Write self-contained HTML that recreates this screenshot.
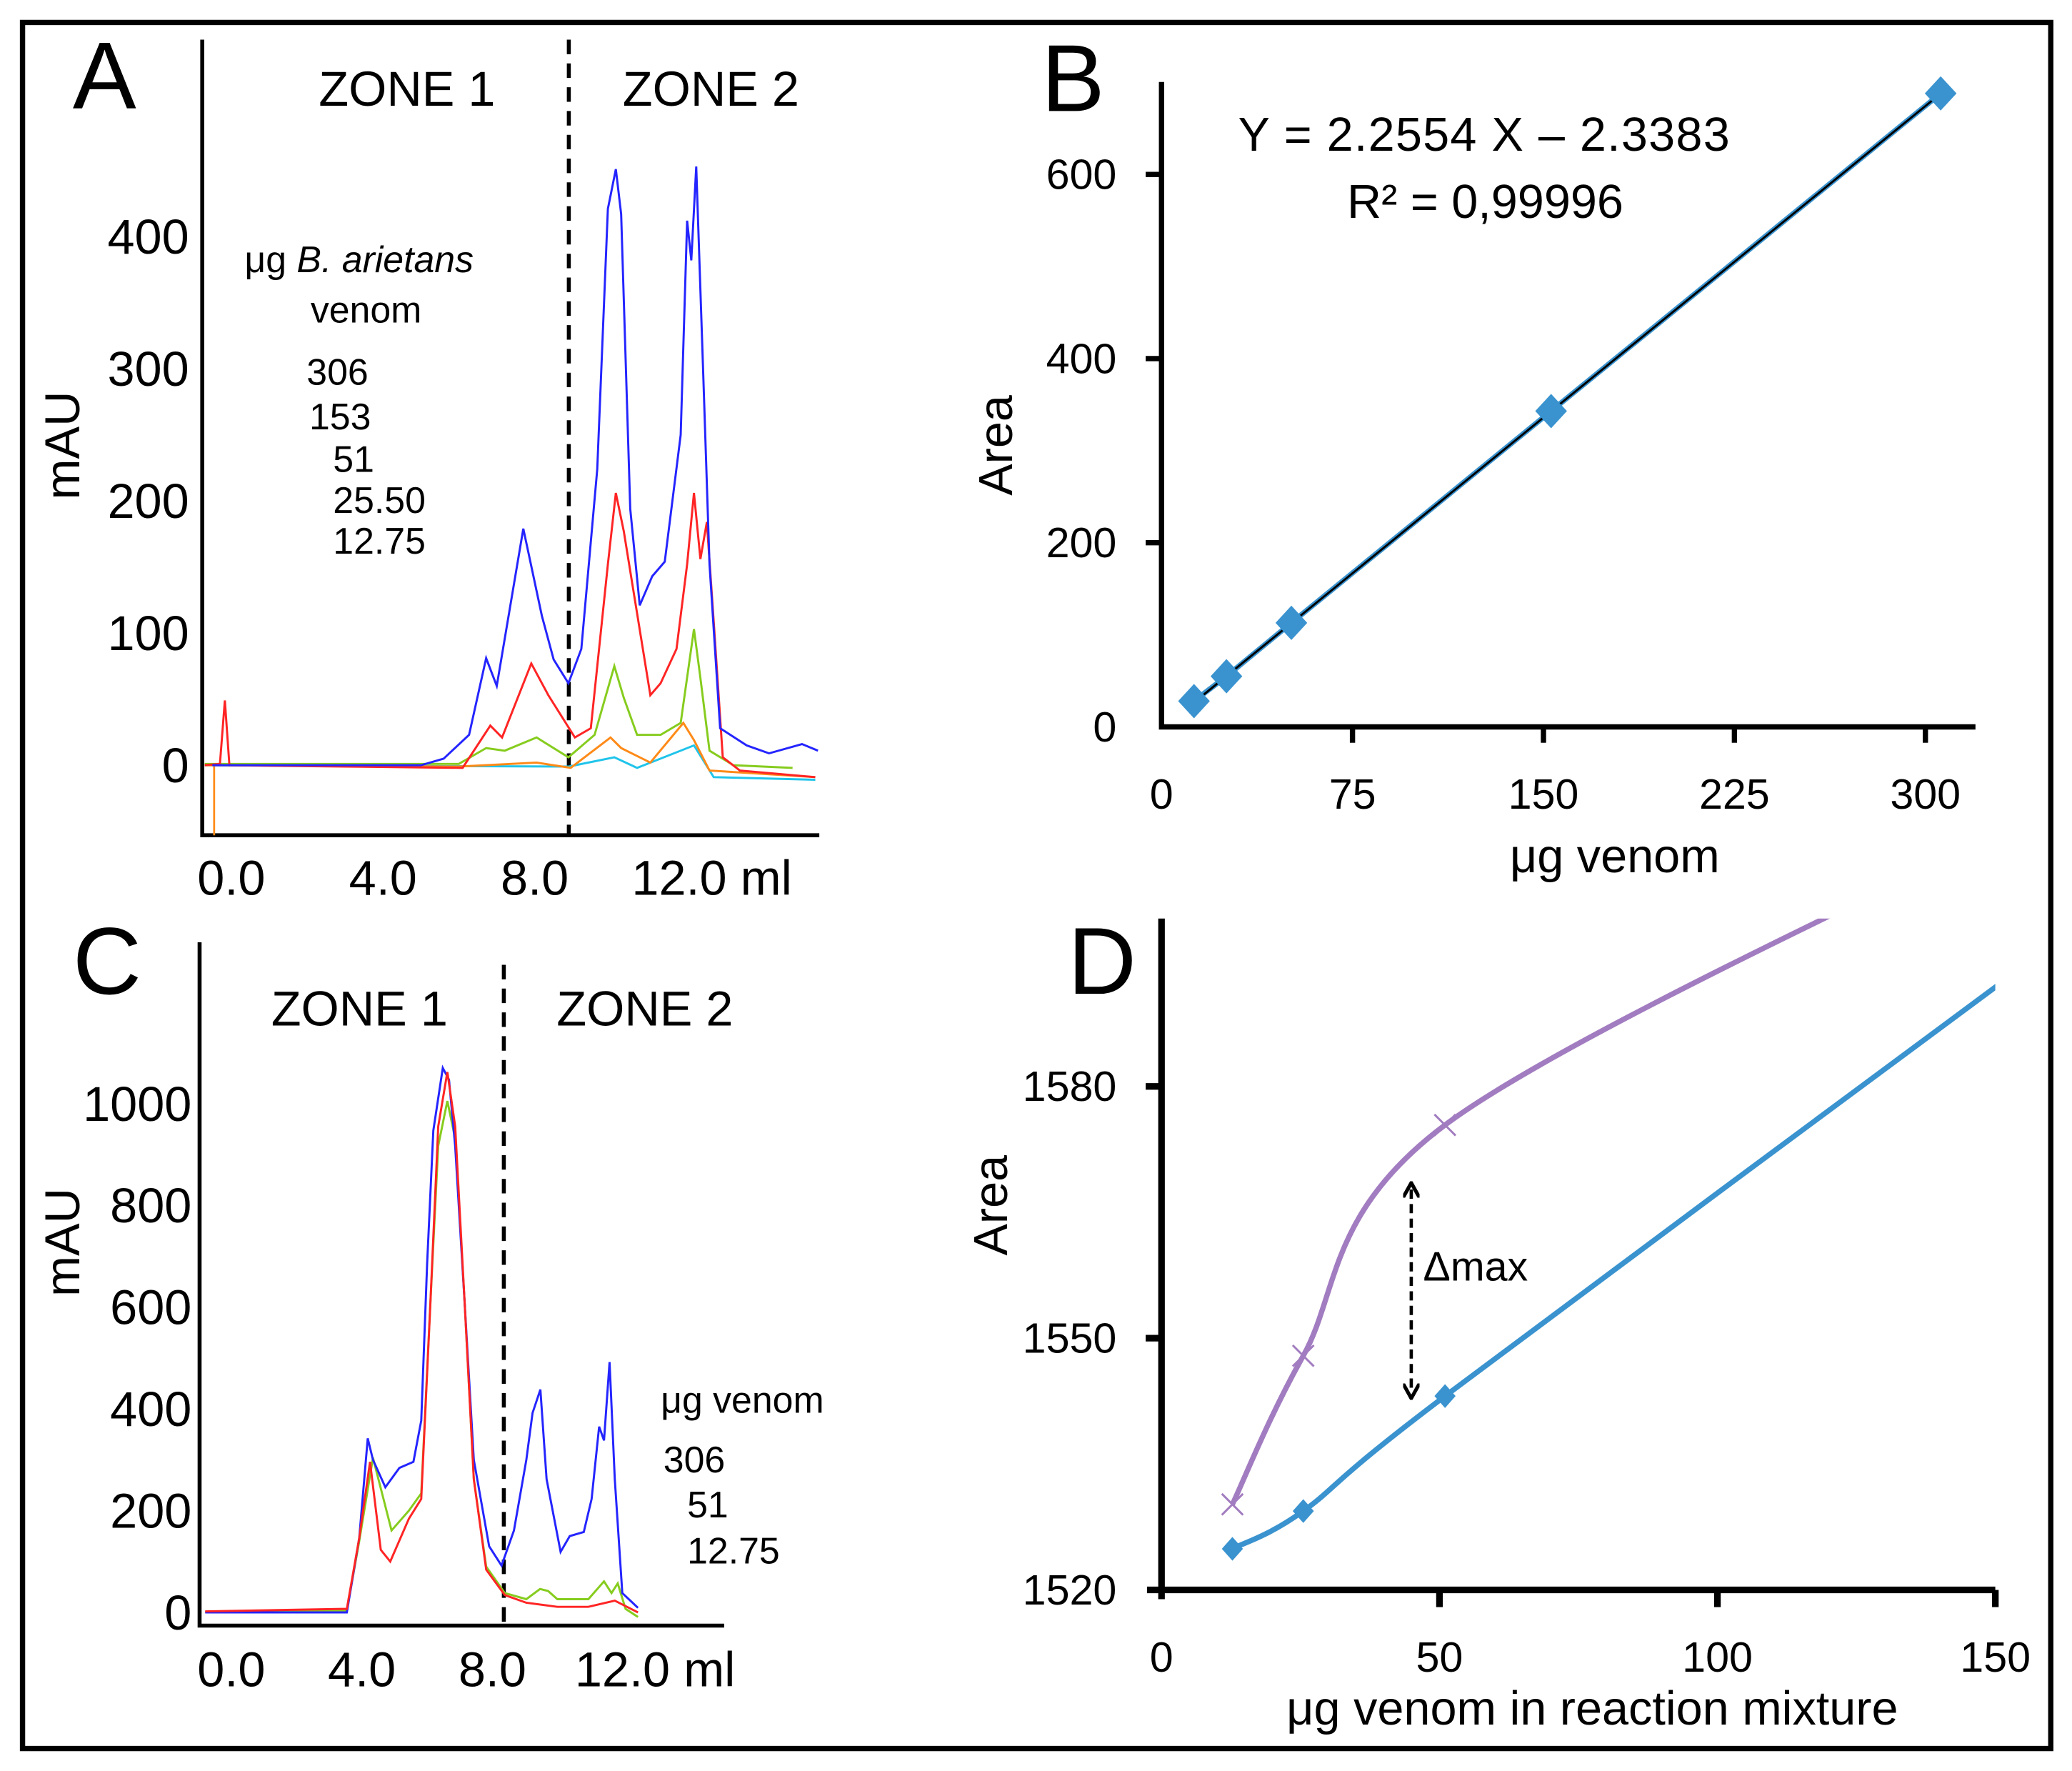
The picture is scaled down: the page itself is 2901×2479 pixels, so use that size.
<!DOCTYPE html>
<html><head><meta charset="utf-8"><style>html,body{margin:0;padding:0;background:#fff}svg{display:block}text{font-family:"Liberation Sans",sans-serif;fill:#000}</style></head>
<body>
<svg id="fig" width="2901" height="2479" viewBox="0 0 1568 1340" xmlns="http://www.w3.org/2000/svg">
<rect x="17" y="17" width="1535" height="1306" fill="#fff" stroke="#000" stroke-width="4"/>
<g id="pa"></g>
<g id="pb"></g>
<g id="pc"></g>
<g id="pd"></g>
</svg>
<script>
// ---------- Panel A data (ml, mAU) ----------
const aBlue=[[-0.5,0],[5.0,0],[5.6,5],[6.27,23],[6.72,81],[7.0,60],[7.7,179],[8.19,113],[8.5,80],[8.89,62],[9.23,88],[9.65,224],[9.93,421],[10.14,451],[10.28,417],[10.52,194],[10.77,121],[11.1,143],[11.43,154],[11.85,250],[12.02,412],[12.13,382],[12.26,453],[12.44,300],[12.61,152],[12.89,28],[13.59,15],[14.18,9],[15.05,16],[15.47,11]];
const aRed=[[-0.7,0],[-0.3,1],[-0.17,49],[-0.05,0],[3,-1],[6.1,-2],[6.83,30],[7.14,21],[7.91,77],[8.36,53],[9.06,21],[9.48,28],[9.93,152],[10.14,206],[10.35,177],[11.05,53],[11.32,62],[11.74,88],[12.02,152],[12.2,206],[12.37,156],[12.54,184],[12.72,109],[12.96,6],[13.41,-4],[15.4,-9]];
const aGreen=[[-0.7,1],[6.0,1],[6.72,13],[7.21,11],[8.05,21],[8.89,6],[9.58,23],[10.1,75],[10.35,51],[10.7,23],[11.32,23],[11.85,32],[12.2,103],[12.37,66],[12.61,11],[13.24,0],[14.8,-2]];
const aOrange=[[-0.7,0],[6.0,-1],[8.05,2],[8.95,-2],[10.0,21],[10.28,13],[11.05,2],[11.92,32],[12.2,19],[12.61,-4],[15.4,-9]];
const aCyan=[[-0.7,0],[8.9,-1],[10.1,6],[10.7,-2],[12.2,15],[12.72,-9],[15.4,-11]];
const aYTicks=[0,100,200,300,400];
const aLegend=["306","153","51","25.50","12.75"];
// ---------- Panel B data ----------
const bX=[12.75,25.5,51,153,306];
const bY=[28,55,113,343,688];
const bSlope=2.2554, bIntercept=-2.3383;
const bXTicks=[0,75,150,225,300];
const bYTicks=[0,200,400,600];
// ---------- Panel C data ----------
const cBlue=[[-0.8,0],[3.54,0],[3.92,146],[4.18,342],[4.34,300],[4.72,246],[5.15,284],[5.58,296],[5.82,377],[6.0,685],[6.19,947],[6.48,1070],[6.67,1047],[6.86,916],[7.15,608],[7.43,300],[7.9,130],[8.28,92],[8.66,161],[9.04,300],[9.23,392],[9.47,438],[9.66,262],[10.09,119],[10.37,150],[10.8,158],[11.04,223],[11.27,365],[11.42,338],[11.59,492],[11.75,262],[11.98,38],[12.46,9]];
const cRed=[[-0.8,2],[3.54,7],[3.92,146],[4.25,296],[4.58,123],[4.87,100],[5.44,184],[5.82,223],[6.1,608],[6.34,955],[6.62,1062],[6.86,955],[7.15,608],[7.43,262],[7.81,84],[8.38,34],[9.04,19],[9.99,11],[10.94,11],[11.75,23],[12.46,0]];
const cGreen=[[-0.8,1],[3.54,4],[3.92,140],[4.34,304],[4.91,161],[5.44,200],[5.82,234],[6.1,608],[6.34,917],[6.62,1005],[6.86,931],[7.15,608],[7.43,262],[7.81,90],[8.38,38],[9.04,26],[9.46,46],[9.71,42],[9.99,26],[10.94,26],[11.42,61],[11.65,38],[11.84,57],[12.08,7],[12.46,-9]];
const cYTicks=[0,200,400,600,800,1000];
const cLegend=["306","51","12.75"];
// ---------- Panel D data ----------
const dX=[12.75,25.5,51,153];
const dControl=[1524.9,1529.4,1543.1,1593.3];
const dTest=[1530.2,1547.9,1575.4,1611];
const dXTicks=[0,50,100,150];
const dYTicks=[1520,1550,1580];

const NS="http://www.w3.org/2000/svg";
function mk(parent,tag,attrs,txt){const e=document.createElementNS(NS,tag);for(const k in attrs)e.setAttribute(k,attrs[k]);if(txt!==undefined)e.textContent=txt;parent.appendChild(e);return e;}
function poly(pts,fx,fy){return pts.map((p,i)=>(i?'L':'M')+fx(p[0]).toFixed(2)+','+fy(p[1]).toFixed(2)).join(' ');}
function smooth(pts){let d='M'+pts[0][0]+','+pts[0][1];for(let i=0;i<pts.length-1;i++){const p0=pts[i-1]||pts[i],p1=pts[i],p2=pts[i+1],p3=pts[i+2]||p2;const c1=[p1[0]+(p2[0]-p0[0])/6,p1[1]+(p2[1]-p0[1])/6],c2=[p2[0]-(p3[0]-p1[0])/6,p2[1]-(p3[1]-p1[1])/6];d+=' C'+c1[0]+','+c1[1]+' '+c2[0]+','+c2[1]+' '+p2[0]+','+p2[1];}return d;}

// ===== Panel A =====
(function(){const g=document.getElementById('pa');
const X=v=>175+v*28.7, Y=v=>579-v*1.0;
mk(g,'defs',{}).innerHTML='<clipPath id="clipA"><rect x="154" y="20" width="470" height="611"/></clipPath>';
let t=mk(g,'text',{x:55,y:82,'font-size':72},'A');
let l=mk(g,'path',{d:'M153,30 V632 H620',stroke:'#000','stroke-width':3,fill:'none'});
aYTicks.forEach(v=>{const e=mk(g,'text',{x:143,y:Y(v)+13,'font-size':37,'text-anchor':'end'},String(v));});
[["0.0",0],["4.0",4],["8.0",8]].forEach(p=>{const e=mk(g,'text',{x:X(p[1]),y:677,'font-size':37,'text-anchor':'middle'},p[0]);});
t=mk(g,'text',{x:478,y:677,'font-size':37},'12.0 ml');
t=mk(g,'text',{x:0,y:0,'font-size':37,'text-anchor':'middle',transform:'translate(60,337) rotate(-90)'},'mAU');
t=mk(g,'text',{x:308,y:80,'font-size':37,'text-anchor':'middle'},'ZONE 1');
t=mk(g,'text',{x:538,y:80,'font-size':37,'text-anchor':'middle'},'ZONE 2');
l=mk(g,'line',{x1:X(8.9),y1:30,x2:X(8.9),y2:632,stroke:'#000','stroke-width':3,'stroke-dasharray':'11,7'});
t=mk(g,'text',{x:185,y:206,'font-size':28});t.innerHTML='μg <tspan font-style="italic">B. arietans</tspan>';
t=mk(g,'text',{x:235,y:244,'font-size':28},'venom');
const lx=[232,234,252,252,252],ly=[291,325,357,388,419];
aLegend.forEach((s,i)=>{const e=mk(g,'text',{x:lx[i],y:ly[i],'font-size':28},s);});
l=mk(g,'line',{x1:162,y1:Y(0),x2:162,y2:632,stroke:'#ff8c1a','stroke-width':1.5});
const series=[[aCyan,'#20c4ea','trace-12-75'],[aOrange,'#ff8a18','trace-25-50'],[aGreen,'#86cc1e','trace-51'],[aRed,'#ff2424','trace-153'],[aBlue,'#2424ff','trace-306']];
series.forEach(s=>{const p=mk(g,'path',{d:poly(s[0],X,Y),stroke:s[1],'stroke-width':1.6,fill:'none','clip-path':'url(#clipA)'});});
})();

// ===== Panel B =====
(function(){const g=document.getElementById('pb');
const X=v=>879+v*1.927, Y=v=>550-v*0.6967;
let t=mk(g,'text',{x:788,y:84,'font-size':72},'B');
let l=mk(g,'path',{d:'M879,62 V550 H1495',stroke:'#000','stroke-width':4,fill:'none'});
bYTicks.forEach(v=>{if(v>0){const k=mk(g,'line',{x1:867,y1:Y(v),x2:879,y2:Y(v),stroke:'#000','stroke-width':4});}
 const e=mk(g,'text',{x:845,y:Y(v)+11,'font-size':32,'text-anchor':'end'},String(v));});
bXTicks.forEach(v=>{if(v>0){const k=mk(g,'line',{x1:X(v),y1:550,x2:X(v),y2:562,stroke:'#000','stroke-width':4});}
 const e=mk(g,'text',{x:X(v),y:612,'font-size':32,'text-anchor':'middle'},String(v));});
t=mk(g,'text',{x:0,y:0,'font-size':36,'text-anchor':'middle',transform:'translate(766,337) rotate(-90)'},'Area');
t=mk(g,'text',{x:1222,y:660,'font-size':36,'text-anchor':'middle'},'μg venom');
t=mk(g,'text',{x:1123,y:114,'font-size':36,'text-anchor':'middle',textLength:372},'Y = 2.2554 X – 2.3383');
t=mk(g,'text',{x:1124,y:165,'font-size':36,'text-anchor':'middle'},'R² = 0,99996');
const pts=bX.map((x,i)=>[x,bY[i]]);
l=mk(g,'path',{d:poly(pts,X,Y),stroke:'#3a93cf','stroke-width':4,fill:'none'});
const x0=bX[0],x1=bX[bX.length-1];
l=mk(g,'line',{x1:X(x0),y1:Y(bSlope*x0+bIntercept),x2:X(x1),y2:Y(bSlope*x1+bIntercept),stroke:'#000','stroke-width':1.6});
pts.forEach(p=>{const cx=X(p[0]),cy=Y(p[1]);const e=mk(g,'path',{d:`M${cx},${cy-13} L${cx+12},${cy} L${cx},${cy+13} L${cx-12},${cy} Z`,fill:'#3a93cf'});});
})();

// ===== Panel C =====
(function(){const g=document.getElementById('pc');
const X=v=>175+v*24.7, Y=v=>1220-v*0.385;
let t=mk(g,'text',{x:55,y:752,'font-size':72},'C');
let l=mk(g,'path',{d:'M151,713 V1230 H548',stroke:'#000','stroke-width':3,fill:'none'});
cYTicks.forEach(v=>{const e=mk(g,'text',{x:145,y:Y(v)+13,'font-size':37,'text-anchor':'end'},String(v));});
[["0.0",0],["4.0",4],["8.0",8]].forEach(p=>{const e=mk(g,'text',{x:X(p[1]),y:1276,'font-size':37,'text-anchor':'middle'},p[0]);});
t=mk(g,'text',{x:435,y:1276,'font-size':37},'12.0 ml');
t=mk(g,'text',{x:0,y:0,'font-size':37,'text-anchor':'middle',transform:'translate(60,940) rotate(-90)'},'mAU');
t=mk(g,'text',{x:272,y:776,'font-size':37,'text-anchor':'middle'},'ZONE 1');
t=mk(g,'text',{x:488,y:776,'font-size':37,'text-anchor':'middle'},'ZONE 2');
l=mk(g,'line',{x1:X(8.35),y1:730,x2:X(8.35),y2:1230,stroke:'#000','stroke-width':3,'stroke-dasharray':'11,7'});
t=mk(g,'text',{x:500,y:1069,'font-size':28},'μg venom');
const lx=[502,520,520],ly=[1114,1148,1183];
cLegend.forEach((s,i)=>{const e=mk(g,'text',{x:lx[i],y:ly[i],'font-size':28},s);});
[[cGreen,'#86cc1e','trace-51'],[cBlue,'#2424ff','trace-306'],[cRed,'#ff2424','trace-12-75']].forEach(s=>{const p=mk(g,'path',{d:poly(s[0],X,Y),stroke:s[1],'stroke-width':1.6,fill:'none'});});
})();

// ===== Panel D =====
(function(){const g=document.getElementById('pd');
const X=v=>879+v*4.207, Y=v=>1203-(v-1520)*6.35;
mk(g,'defs',{}).innerHTML='<clipPath id="clipD"><rect x="880" y="695" width="630" height="520"/></clipPath><marker id="ah" viewBox="0 0 10 10" refX="5" refY="5" markerWidth="5" markerHeight="5" orient="auto-start-reverse"><path d="M0,0 L9,5 L0,10" fill="none" stroke="#000" stroke-width="2.2"/></marker>';
let t=mk(g,'text',{x:808,y:752,'font-size':72},'D');
let l=mk(g,'path',{d:'M879,695 V1210 M868,1203 H1510',stroke:'#000','stroke-width':5,fill:'none'});
dYTicks.forEach(v=>{if(v>1520){const k=mk(g,'line',{x1:867,y1:Y(v),x2:879,y2:Y(v),stroke:'#000','stroke-width':5});}
 const e=mk(g,'text',{x:845,y:Y(v)+11,'font-size':32,'text-anchor':'end'},String(v));});
dXTicks.forEach(v=>{if(v>0){const k=mk(g,'line',{x1:X(v),y1:1203,x2:X(v),y2:1216,stroke:'#000','stroke-width':5});}
 const e=mk(g,'text',{x:X(v),y:1265,'font-size':32,'text-anchor':'middle'},String(v));});
t=mk(g,'text',{x:0,y:0,'font-size':36,'text-anchor':'middle',transform:'translate(762,912) rotate(-90)'},'Area');
t=mk(g,'text',{x:1205,y:1305,'font-size':36,'text-anchor':'middle'},'μg venom in reaction mixture');
const cp=dX.map((x,i)=>[X(x),Y(dControl[i])]), tp=dX.map((x,i)=>[X(x),Y(dTest[i])]);
l=mk(g,'path',{d:smooth(tp),stroke:'#a27cc0','stroke-width':4,fill:'none','clip-path':'url(#clipD)'});
l=mk(g,'path',{d:smooth(cp),stroke:'#3a93cf','stroke-width':4,fill:'none','clip-path':'url(#clipD)'});
tp.forEach(p=>{if(p[0]>1510||p[1]<695)return;const e=mk(g,'path',{d:`M${p[0]-8},${p[1]-8} L${p[0]+8},${p[1]+8} M${p[0]+8},${p[1]-8} L${p[0]-8},${p[1]+8}`,stroke:'#a27cc0','stroke-width':1.6});});
cp.forEach(p=>{if(p[0]>1510)return;const e=mk(g,'path',{d:`M${p[0]},${p[1]-9} L${p[0]+8},${p[1]} L${p[0]},${p[1]+9} L${p[0]-8},${p[1]} Z`,fill:'#3a93cf'});});
l=mk(g,'line',{x1:1068,y1:900,x2:1068,y2:1053,stroke:'#000','stroke-width':2.5,'stroke-dasharray':'7,4','marker-start':'url(#ah)','marker-end':'url(#ah)'});
t=mk(g,'text',{x:1077,y:969,'font-size':31},'Δmax');
})();
</script>
</body></html>
